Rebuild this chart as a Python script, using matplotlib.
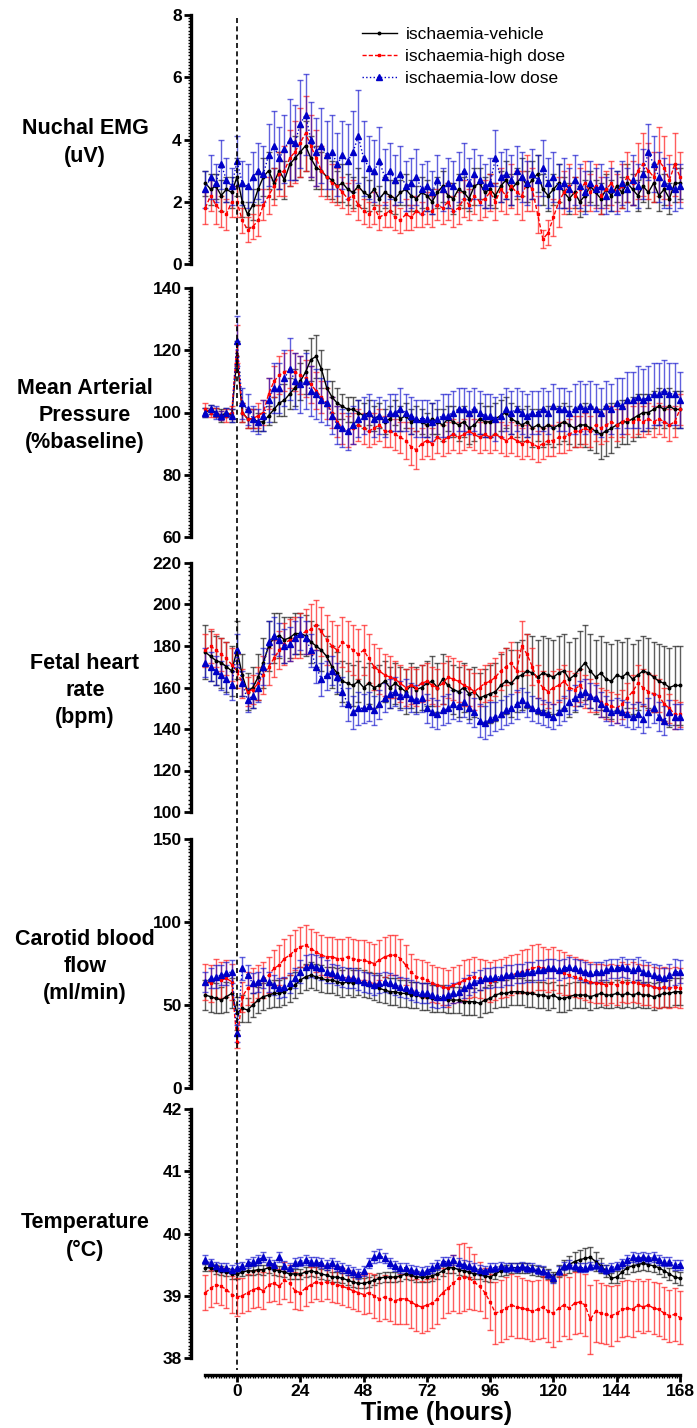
import matplotlib
matplotlib.use('Agg')
import matplotlib.pyplot as plt
from matplotlib.ticker import MultipleLocator, FixedLocator
from matplotlib.transforms import blended_transform_factory
from matplotlib.lines import Line2D

plt.rcParams['font.family'] = ['Liberation Sans', 'DejaVu Sans']

hours = list(range(-12, 169, 2))

series_names = ['ischaemia-vehicle', 'ischaemia-high dose', 'ischaemia-low dose']

# ---------------- Nuchal EMG (uV) ----------------
emg_vehicle = [2.6, 2.4, 2.5, 2.2, 2.4, 2.3,
               2.8, 2.0, 1.6, 1.9, 2.4, 2.8,
               3.0, 2.6, 3.0, 2.7, 3.2, 3.4,
               3.6, 3.8, 3.4, 3.1, 3.0, 2.8,
               2.7, 2.5, 2.6, 2.4, 2.3, 2.5,
               2.3, 2.2, 2.4, 2.1, 2.3, 2.2,
               2.1, 2.3, 2.4, 2.2, 2.1, 2.3,
               2.2, 2.0, 2.3, 2.5, 2.2, 2.1,
               2.4, 2.3, 2.1, 2.5, 2.6, 2.3,
               2.4, 2.2, 2.5, 2.7, 2.4, 2.6,
               2.8, 2.5, 2.7, 2.9, 2.4, 2.2,
               2.4, 2.6, 2.3, 2.1, 2.3, 2.0,
               2.2, 2.5, 2.3, 2.1, 2.4, 2.2,
               2.5, 2.3, 2.6, 2.4, 2.2, 2.5,
               2.3, 2.6, 2.2, 2.4, 2.1, 2.6,
               2.6]
emg_vehicle_err = [0.4, 0.5, 0.4, 0.5, 0.4, 0.5,
                   0.6, 0.5, 0.4, 0.5, 0.5, 0.6,
                   0.6, 0.5, 0.6, 0.6, 0.7, 0.7,
                   0.8, 0.8, 0.7, 0.7, 0.6, 0.6,
                   0.6, 0.5, 0.6, 0.5, 0.5, 0.6,
                   0.5, 0.5, 0.5, 0.4, 0.5, 0.5,
                   0.5, 0.4, 0.5, 0.5, 0.4, 0.5,
                   0.5, 0.4, 0.5, 0.5, 0.4, 0.5,
                   0.5, 0.5, 0.4, 0.6, 0.5, 0.5,
                   0.5, 0.4, 0.5, 0.6, 0.5, 0.5,
                   0.6, 0.5, 0.6, 0.6, 0.5, 0.5,
                   0.5, 0.6, 0.5, 0.5, 0.5, 0.5,
                   0.5, 0.5, 0.4, 0.5, 0.5, 0.5,
                   0.5, 0.5, 0.6, 0.5, 0.5, 0.5,
                   0.5, 0.6, 0.5, 0.5, 0.5, 0.6,
                   0.5]
emg_high = [1.8, 2.2, 1.9, 1.7, 1.6, 2.0,
            2.0, 1.4, 1.1, 1.2, 1.4, 1.9,
            2.2, 2.5, 2.9, 3.0, 3.4, 3.6,
            3.9, 4.2, 3.8, 3.4, 3.0, 2.8,
            2.6, 2.5, 2.3, 2.1, 2.2, 1.9,
            1.7, 1.6, 1.8, 1.5, 1.6, 1.7,
            1.5, 1.4, 1.6, 1.5, 1.7, 1.6,
            1.8, 1.7, 1.9, 1.8, 2.0, 1.7,
            1.8, 2.1, 1.9, 2.2, 2.0, 2.1,
            2.3, 2.0, 2.4, 2.2, 2.5, 2.3,
            2.2, 2.6, 2.4, 1.6, 0.8, 1.0,
            1.5, 2.0, 2.3, 2.5, 2.2, 2.4,
            2.6, 2.3, 2.5, 2.2, 2.4, 2.6,
            2.3, 2.5, 2.8, 2.6, 3.0, 3.2,
            3.0, 2.8, 3.3, 3.1, 2.7, 3.2,
            2.8]
emg_high_err = [0.5, 0.5, 0.6, 0.5, 0.5, 0.5,
                0.5, 0.4, 0.4, 0.4, 0.5, 0.5,
                0.6, 0.6, 0.7, 0.8, 0.9, 1.0,
                1.1, 1.2, 1.0, 0.9, 0.8, 0.7,
                0.6, 0.6, 0.5, 0.5, 0.5, 0.5,
                0.4, 0.4, 0.5, 0.4, 0.4, 0.5,
                0.4, 0.4, 0.5, 0.4, 0.5, 0.4,
                0.5, 0.5, 0.5, 0.5, 0.6, 0.5,
                0.5, 0.6, 0.5, 0.6, 0.6, 0.6,
                0.6, 0.6, 0.7, 0.6, 0.7, 0.7,
                0.8, 0.9, 0.7, 0.6, 0.3, 0.4,
                0.6, 0.8, 0.7, 0.7, 0.6, 0.7,
                0.7, 0.6, 0.7, 0.6, 0.6, 0.7,
                0.6, 0.7, 0.8, 0.7, 0.9, 1.0,
                0.9, 0.8, 1.1, 1.0, 0.8, 1.0,
                0.8]
emg_low = [2.4, 2.8, 2.6, 3.2, 2.7, 2.5,
           3.3, 2.6, 2.5, 2.8, 3.0, 2.9,
           3.5, 3.8, 3.4, 3.7, 4.0, 3.9,
           4.5, 4.8, 4.0, 3.6, 3.8, 3.5,
           3.6, 3.2, 3.5, 3.3, 3.6, 4.1,
           3.4, 3.1, 3.0, 3.3, 2.8, 3.0,
           2.7, 2.9, 2.5, 2.6, 2.8, 2.4,
           2.5, 2.3, 2.7, 2.4, 2.6, 2.5,
           2.8, 3.0, 2.6, 2.9, 2.7, 2.5,
           2.6, 3.4, 2.8, 2.9, 2.7, 3.0,
           2.8, 2.6, 2.9, 2.7, 3.1, 2.6,
           2.8, 2.5, 2.6, 2.4, 2.7, 2.5,
           2.3, 2.6, 2.4, 2.5, 2.2, 2.4,
           2.3, 2.6, 2.4, 2.7, 2.5, 2.9,
           3.6, 3.2, 2.8, 2.6, 2.5, 2.4,
           2.5]
emg_low_err = [0.6, 0.7, 0.6, 0.8, 0.7, 0.6,
               0.8, 0.7, 0.7, 0.8, 0.9, 0.9,
               1.0, 1.1, 1.0, 1.1, 1.3, 1.2,
               1.4, 1.3, 1.2, 1.1, 1.2, 1.1,
               1.2, 1.0, 1.1, 1.2, 1.3, 1.5,
               1.2, 1.0, 1.0, 1.1, 0.9, 0.9,
               0.8, 0.9, 0.8, 0.8, 0.9, 0.8,
               0.8, 0.7, 0.8, 0.7, 0.8, 0.8,
               0.8, 0.9, 0.8, 0.8, 0.8, 0.7,
               0.8, 0.9, 0.8, 0.8, 0.8, 0.8,
               0.8, 0.7, 0.8, 0.8, 0.9, 0.8,
               0.8, 0.7, 0.8, 0.7, 0.8, 0.7,
               0.7, 0.7, 0.7, 0.7, 0.6, 0.7,
               0.7, 0.7, 0.7, 0.8, 0.7, 0.8,
               0.9, 0.9, 0.8, 0.8, 0.7, 0.7,
               0.7]

# ---------------- Mean arterial pressure (% baseline) ----------------
map_vehicle = [100, 101, 100, 99, 100, 99,
               118, 100, 98, 98, 97, 97,
               99, 101, 103, 104, 106, 108,
               110, 113, 117, 118, 114, 108,
               105, 103, 102, 101, 101, 100,
               99, 100, 98, 99, 97, 98,
               100, 98, 99, 97, 98, 97,
               96, 98, 97, 96, 98, 97,
               96, 97, 95, 96, 98, 97,
               97, 98, 99, 100, 98, 97,
               96, 97, 95, 96, 95, 96,
               95, 96, 97, 96, 95, 96,
               96, 95, 94, 93, 94, 95,
               96, 97, 97, 98, 99, 100,
               100, 101, 102, 101, 102, 101,
               101]
map_vehicle_err = [1.5, 1.5, 1.5, 2, 1.5, 2,
                   5, 3, 3, 3, 3, 3,
                   3, 4, 4, 5, 5, 6,
                   6, 7, 7, 7, 6, 6,
                   5, 5, 4, 4, 4, 4,
                   4, 4, 4, 4, 4, 4,
                   4, 4, 4, 4, 4, 4,
                   4, 5, 4, 5, 4, 5,
                   5, 5, 5, 5, 5, 5,
                   5, 5, 5, 5, 5, 5,
                   5, 5, 6, 5, 6, 6,
                   6, 6, 6, 6, 6, 6,
                   7, 7, 7, 8, 8, 8,
                   7, 7, 7, 7, 7, 6,
                   6, 6, 6, 6, 6, 6,
                   6]
map_high = [101, 100, 100, 99, 99, 100,
            122, 100, 98, 98, 99, 100,
            106, 110, 112, 113, 114, 113,
            112, 111, 109, 107, 105, 103,
            100, 97, 95, 94, 95, 96,
            95, 94, 95, 96, 94, 94,
            93, 92, 91, 89, 88, 90,
            91, 90, 92, 91, 92, 93,
            92, 93, 94, 93, 92, 93,
            92, 93, 92, 91, 92, 91,
            90, 91, 90, 89, 90, 91,
            91, 92, 92, 93, 94, 94,
            95, 94, 96, 95, 96, 97,
            96, 97, 98, 97, 98, 97,
            98, 97, 98, 97, 96, 97,
            101]
map_high_err = [2, 1.5, 1.5, 1.5, 2, 2,
                6, 3, 3, 3, 4, 4,
                5, 5, 6, 6, 6, 6,
                6, 6, 6, 6, 5, 5,
                5, 5, 5, 5, 5, 5,
                5, 5, 5, 5, 5, 5,
                5, 5, 6, 6, 6, 5,
                5, 5, 5, 5, 5, 5,
                5, 5, 5, 5, 5, 5,
                5, 5, 5, 5, 5, 5,
                5, 5, 5, 5, 5, 5,
                5, 5, 5, 5, 5, 5,
                5, 5, 5, 5, 5, 5,
                5, 5, 5, 5, 5, 5,
                5, 5, 5, 5, 5, 5,
                5]
map_low = [100, 101, 100, 99, 100, 99,
           123, 103, 101, 98, 97, 99,
           104, 108, 108, 111, 114, 110,
           109, 110, 107, 106, 104, 103,
           99, 96, 95, 94, 96, 98,
           99, 100, 98, 99, 98, 100,
           100, 101, 100, 99, 98, 98,
           98, 97, 98, 99, 99, 100,
           101, 101, 100, 101, 100, 99,
           99, 98, 99, 101, 100, 101,
           100, 99, 100, 100, 101, 100,
           102, 101, 101, 100, 101, 102,
           101, 102, 101, 100, 102, 101,
           103, 102, 104, 104, 105, 104,
           105, 106, 106, 107, 106, 106,
           104]
map_low_err = [1.5, 1.5, 2, 1.5, 1.5, 2,
               8, 5, 5, 4, 4, 5,
               7, 8, 8, 9, 10, 9,
               9, 9, 8, 8, 7, 7,
               6, 6, 6, 6, 6, 6,
               6, 6, 6, 6, 6, 6,
               6, 7, 6, 6, 6, 6,
               6, 6, 6, 7, 7, 7,
               7, 7, 7, 7, 7, 7,
               7, 7, 7, 7, 7, 7,
               7, 7, 7, 7, 7, 7,
               7, 7, 7, 7, 8, 8,
               8, 8, 8, 8, 8, 8,
               8, 9, 9, 9, 10, 10,
               10, 10, 10, 10, 10, 10,
               9]

# ---------------- Fetal heart rate (bpm) ----------------
fhr_vehicle = [177, 175, 173, 172, 170, 168,
               178, 166, 158, 160, 165, 172,
               180, 184, 185, 183, 184, 186,
               186, 185, 182, 180, 178, 175,
               170, 167, 163, 162, 161, 163,
               160, 162, 160, 161, 163, 160,
               162, 160, 158, 161, 159, 160,
               162, 163, 160, 164, 161, 159,
               158, 160, 157, 158, 155, 156,
               157, 158, 161, 163, 162, 165,
               166, 168, 167, 165, 167, 166,
               165, 167, 168, 164, 166, 169,
               172, 168, 165, 167, 164, 163,
               166, 165, 167, 164, 166, 168,
               167, 165, 163, 162, 160, 161,
               161]
fhr_vehicle_err = [13, 12, 12, 12, 12, 12,
                   14, 10, 9, 10, 11, 12,
                   12, 12, 11, 11, 10, 10,
                   10, 10, 10, 10, 10, 10,
                   10, 10, 10, 10, 10, 10,
                   10, 10, 10, 10, 10, 10,
                   10, 10, 11, 11, 11, 11,
                   11, 12, 12, 12, 12, 12,
                   12, 12, 12, 12, 12, 13,
                   14, 14, 15, 16, 16, 17,
                   17, 18, 18, 18, 18, 18,
                   18, 18, 18, 18, 18, 18,
                   18, 18, 18, 18, 18, 18,
                   17, 17, 17, 17, 17, 17,
                   17, 17, 18, 18, 19, 19,
                   19]
fhr_high = [178, 180, 178, 176, 174, 171,
            168, 162, 158, 159, 162, 166,
            170, 174, 178, 181, 183, 184,
            185, 187, 188, 190, 187, 183,
            180, 178, 182, 180, 178, 176,
            178, 174, 170, 168, 166, 165,
            164, 162, 160, 161, 160, 162,
            163, 161, 160, 162, 165, 164,
            163, 161, 160, 158, 160, 162,
            163, 165, 168, 170, 172, 168,
            180, 176, 170, 163, 160, 158,
            160, 161, 163, 160, 159, 161,
            158, 156, 155, 153, 152, 151,
            150, 152, 155, 158, 162, 160,
            158, 157, 156, 152, 150, 147,
            147]
fhr_high_err = [8, 8, 8, 8, 8, 8,
                8, 7, 7, 7, 8, 9,
                9, 9, 9, 10, 10, 10,
                11, 11, 12, 12, 12, 12,
                12, 12, 12, 12, 12, 12,
                12, 12, 11, 11, 10, 10,
                9, 9, 9, 9, 9, 9,
                9, 9, 9, 10, 10, 10,
                10, 10, 9, 9, 9, 9,
                9, 9, 9, 9, 10, 10,
                12, 10, 9, 8, 8, 8,
                8, 8, 8, 8, 8, 8,
                8, 8, 7, 7, 7, 7,
                7, 7, 7, 8, 9, 9,
                9, 9, 8, 8, 7, 7,
                6]
fhr_low = [172, 170, 168, 166, 164, 161,
           178, 162, 154, 156, 160, 170,
           182, 185, 183, 180, 181, 184,
           186, 184, 178, 170, 164, 166,
           168, 165, 158, 152, 148, 150,
           150, 151, 149, 152, 155, 157,
           158, 156, 157, 155, 154, 155,
           150, 148, 147, 149, 150, 152,
           151, 153, 150, 148, 144, 143,
           145, 146, 147, 149, 150, 152,
           154, 152, 150, 149, 148, 147,
           146, 148, 150, 153, 155, 157,
           158, 156, 155, 152, 150, 148,
           149, 148, 147, 146, 147, 145,
           148, 150, 146, 144, 148, 146,
           146]
fhr_low_err = [7, 7, 7, 7, 7, 7,
               8, 6, 6, 6, 7, 9,
               10, 9, 8, 8, 8, 8,
               8, 8, 8, 8, 8, 7,
               7, 7, 7, 8, 8, 8,
               7, 7, 7, 7, 7, 7,
               7, 7, 7, 7, 7, 7,
               7, 7, 7, 7, 7, 7,
               7, 7, 7, 7, 8, 8,
               8, 7, 7, 7, 7, 7,
               6, 6, 6, 6, 6, 6,
               6, 6, 6, 6, 6, 6,
               6, 6, 6, 6, 6, 6,
               6, 6, 6, 6, 6, 7,
               7, 7, 7, 7, 6, 6,
               6]

# ---------------- Carotid blood flow (ml/min) ----------------
cbf_vehicle = [56, 55, 54, 53, 55, 57,
               45, 48, 47, 50, 53, 55,
               56, 57, 57, 58, 60, 62,
               65, 67, 68, 67, 66, 65,
               65, 64, 63, 64, 63, 64,
               63, 62, 61, 60, 59, 58,
               58, 57, 57, 56, 56, 55,
               55, 54, 54, 54, 53, 53,
               53, 52, 52, 52, 51, 53,
               54, 56, 57, 57, 58, 58,
               58, 57, 57, 56, 56, 55,
               56, 54, 54, 55, 56, 56,
               56, 55, 56, 57, 56, 56,
               57, 56, 57, 56, 57, 56,
               56, 55, 56, 57, 57, 58,
               58]
cbf_vehicle_err = [9, 9, 9, 8, 9, 9,
                   10, 8, 7, 7, 8, 8,
                   8, 8, 8, 8, 8, 8,
                   8, 8, 8, 8, 8, 8,
                   8, 8, 8, 8, 8, 8,
                   8, 8, 8, 8, 8, 8,
                   8, 8, 8, 8, 8, 8,
                   8, 8, 8, 8, 8, 8,
                   8, 8, 8, 8, 8, 8,
                   8, 8, 8, 8, 8, 8,
                   8, 8, 8, 8, 8, 8,
                   8, 8, 8, 8, 8, 8,
                   8, 8, 8, 8, 8, 8,
                   8, 8, 8, 8, 8, 8,
                   8, 8, 8, 8, 8, 8,
                   8]
cbf_high = [64, 63, 66, 65, 66, 64,
            28, 55, 60, 62, 64, 65,
            68, 72, 74, 78, 80, 83,
            85, 86, 84, 82, 80, 79,
            79, 78, 78, 79, 78, 77,
            77, 76, 75, 77, 79, 80,
            80, 78, 74, 70, 67, 66,
            65, 63, 62, 61, 60, 62,
            63, 65, 66, 67, 66, 65,
            64, 65, 66, 67, 68, 69,
            70, 71, 72, 73, 72, 71,
            72, 70, 69, 68, 67, 66,
            65, 64, 63, 63, 62, 63,
            62, 64, 63, 64, 63, 62,
            62, 61, 60, 61, 60, 61,
            60]
cbf_high_err = [11, 11, 12, 11, 11, 11,
                4, 9, 10, 10, 10, 11,
                11, 11, 12, 12, 12, 12,
                12, 12, 12, 12, 12, 12,
                12, 12, 12, 12, 12, 12,
                12, 12, 12, 12, 12, 12,
                12, 12, 12, 11, 11, 11,
                11, 11, 11, 11, 11, 11,
                11, 12, 12, 12, 12, 12,
                12, 12, 12, 12, 12, 12,
                13, 13, 14, 14, 13, 13,
                13, 13, 13, 12, 12, 12,
                12, 12, 12, 12, 12, 12,
                12, 12, 12, 12, 12, 12,
                12, 12, 12, 12, 12, 12,
                12]
cbf_low = [64, 66, 67, 68, 69, 70,
           33, 72, 68, 63, 64, 66,
           64, 62, 60, 61, 63, 66,
           70, 73, 74, 73, 72, 70,
           69, 68, 67, 66, 66, 65,
           64, 63, 62, 63, 64, 63,
           62, 61, 60, 59, 58, 57,
           57, 56, 55, 55, 56, 57,
           58, 60, 62, 64, 65, 66,
           66, 67, 67, 68, 68, 69,
           69, 70, 70, 71, 71, 72,
           72, 71, 72, 73, 72, 71,
           70, 69, 70, 70, 71, 72,
           72, 73, 72, 71, 72, 70,
           69, 68, 67, 66, 68, 70,
           70]
cbf_low_err = [6, 6, 7, 6, 7, 7,
               5, 7, 6, 6, 6, 6,
               6, 6, 6, 6, 6, 6,
               7, 7, 7, 7, 7, 7,
               6, 6, 6, 6, 6, 6,
               6, 6, 6, 6, 6, 6,
               6, 6, 6, 6, 6, 6,
               6, 7, 7, 6, 6, 6,
               6, 6, 6, 6, 6, 6,
               6, 6, 6, 6, 6, 6,
               6, 6, 6, 6, 6, 6,
               6, 6, 6, 6, 6, 6,
               6, 6, 6, 6, 6, 6,
               6, 6, 6, 7, 7, 7,
               7, 7, 7, 6, 7, 8,
               7]

# ---------------- Temperature (°C) ----------------
temp_vehicle = [39.45, 39.45, 39.42, 39.40, 39.38, 39.35,
                39.35, 39.38, 39.40, 39.40, 39.42, 39.42,
                39.45, 39.42, 39.40, 39.38, 39.35, 39.35,
                39.35, 39.38, 39.40, 39.38, 39.35, 39.33,
                39.30, 39.30, 39.28, 39.25, 39.22, 39.20,
                39.20, 39.22, 39.25, 39.28, 39.30, 39.30,
                39.30, 39.32, 39.35, 39.33, 39.30, 39.30,
                39.30, 39.32, 39.35, 39.40, 39.45, 39.45,
                39.42, 39.40, 39.38, 39.35, 39.35, 39.32,
                39.30, 39.35, 39.40, 39.42, 39.45, 39.45,
                39.45, 39.45, 39.42, 39.40, 39.38, 39.35,
                39.30, 39.40, 39.45, 39.50, 39.55, 39.58,
                39.60, 39.62, 39.55, 39.48, 39.40, 39.28,
                39.30, 39.38, 39.45, 39.48, 39.50, 39.52,
                39.50, 39.48, 39.45, 39.40, 39.35, 39.30,
                39.28]
temp_vehicle_err = [0.06, 0.06, 0.07, 0.07, 0.07, 0.08,
                    0.08, 0.07, 0.07, 0.07, 0.07, 0.08,
                    0.08, 0.08, 0.08, 0.08, 0.08, 0.08,
                    0.08, 0.08, 0.08, 0.08, 0.08, 0.08,
                    0.08, 0.08, 0.08, 0.08, 0.08, 0.08,
                    0.08, 0.08, 0.08, 0.08, 0.08, 0.08,
                    0.08, 0.08, 0.08, 0.08, 0.08, 0.08,
                    0.08, 0.08, 0.08, 0.08, 0.08, 0.08,
                    0.08, 0.08, 0.08, 0.08, 0.08, 0.08,
                    0.08, 0.08, 0.08, 0.08, 0.08, 0.08,
                    0.08, 0.08, 0.08, 0.08, 0.08, 0.08,
                    0.08, 0.10, 0.12, 0.14, 0.15, 0.16,
                    0.17, 0.17, 0.15, 0.12, 0.10, 0.08,
                    0.09, 0.10, 0.10, 0.10, 0.10, 0.10,
                    0.10, 0.10, 0.10, 0.10, 0.10, 0.10,
                    0.10]
temp_high = [39.05, 39.12, 39.18, 39.15, 39.10, 39.02,
             38.98, 39.00, 39.05, 39.10, 39.12, 39.08,
             39.18, 39.20, 39.15, 39.25, 39.20, 39.08,
             39.05, 39.12, 39.18, 39.22, 39.20, 39.22,
             39.20, 39.18, 39.15, 39.12, 39.08, 39.05,
             39.02, 39.05, 39.00, 38.95, 38.98, 38.95,
             38.92, 38.95, 38.95, 38.90, 38.85, 38.82,
             38.85, 38.88, 38.95, 39.05, 39.12, 39.20,
             39.28, 39.30, 39.28, 39.22, 39.15, 39.05,
             38.90, 38.72, 38.75, 38.80, 38.85, 38.82,
             38.80, 38.78, 38.75, 38.78, 38.82, 38.75,
             38.72, 38.80, 38.85, 38.80, 38.88, 38.90,
             38.85, 38.62, 38.75, 38.72, 38.70, 38.68,
             38.72, 38.78, 38.80, 38.78, 38.85, 38.82,
             38.85, 38.80, 38.78, 38.72, 38.68, 38.70,
             38.65]
temp_high_err = [0.28, 0.30, 0.30, 0.30, 0.30, 0.30,
                 0.30, 0.28, 0.30, 0.30, 0.30, 0.30,
                 0.28, 0.28, 0.28, 0.30, 0.30, 0.30,
                 0.28, 0.28, 0.28, 0.28, 0.28, 0.28,
                 0.30, 0.30, 0.30, 0.30, 0.30, 0.30,
                 0.32, 0.32, 0.35, 0.35, 0.35, 0.35,
                 0.38, 0.40, 0.40, 0.42, 0.42, 0.42,
                 0.42, 0.40, 0.40, 0.40, 0.40, 0.45,
                 0.55, 0.55, 0.50, 0.45, 0.40, 0.40,
                 0.45, 0.50, 0.50, 0.50, 0.50, 0.50,
                 0.48, 0.48, 0.48, 0.48, 0.50, 0.50,
                 0.55, 0.52, 0.50, 0.50, 0.50, 0.50,
                 0.50, 0.55, 0.50, 0.48, 0.48, 0.48,
                 0.45, 0.45, 0.45, 0.45, 0.42, 0.42,
                 0.42, 0.42, 0.42, 0.42, 0.42, 0.42,
                 0.42]
temp_low = [39.58, 39.52, 39.48, 39.45, 39.45, 39.42,
            39.45, 39.48, 39.52, 39.55, 39.58, 39.62,
            39.55, 39.50, 39.62, 39.48, 39.45, 39.52,
            39.55, 39.58, 39.55, 39.55, 39.52, 39.50,
            39.52, 39.48, 39.45, 39.42, 39.38, 39.35,
            39.40, 39.52, 39.62, 39.65, 39.60, 39.52,
            39.48, 39.45, 39.45, 39.42, 39.40, 39.38,
            39.40, 39.45, 39.50, 39.55, 39.55, 39.58,
            39.52, 39.50, 39.48, 39.45, 39.42, 39.40,
            39.45, 39.45, 39.48, 39.45, 39.46, 39.45,
            39.48, 39.45, 39.45, 39.42, 39.40, 39.35,
            39.28, 39.40, 39.48, 39.50, 39.48, 39.45,
            39.45, 39.48, 39.50, 39.45, 39.42, 39.45,
            39.48, 39.52, 39.58, 39.62, 39.60, 39.62,
            39.60, 39.62, 39.58, 39.55, 39.55, 39.50,
            39.50]
temp_low_err = [0.07, 0.07, 0.07, 0.07, 0.07, 0.07,
                0.08, 0.07, 0.07, 0.08, 0.08, 0.08,
                0.08, 0.08, 0.08, 0.08, 0.08, 0.08,
                0.08, 0.08, 0.08, 0.08, 0.08, 0.08,
                0.08, 0.08, 0.08, 0.08, 0.08, 0.08,
                0.08, 0.08, 0.10, 0.10, 0.08, 0.08,
                0.08, 0.08, 0.08, 0.08, 0.08, 0.08,
                0.08, 0.08, 0.08, 0.08, 0.08, 0.08,
                0.08, 0.08, 0.08, 0.08, 0.08, 0.08,
                0.07, 0.07, 0.07, 0.07, 0.07, 0.07,
                0.07, 0.07, 0.07, 0.07, 0.07, 0.07,
                0.07, 0.07, 0.07, 0.07, 0.07, 0.07,
                0.07, 0.07, 0.07, 0.07, 0.07, 0.07,
                0.07, 0.07, 0.08, 0.08, 0.08, 0.08,
                0.08, 0.08, 0.08, 0.08, 0.08, 0.08,
                0.08]

panels = [
    dict(label='Nuchal EMG\n(uV)', ylim=(0, 8), major=2, minor=0.1,
         series=[(emg_vehicle, emg_vehicle_err), (emg_high, emg_high_err), (emg_low, emg_low_err)]),
    dict(label='Mean Arterial\nPressure\n(%baseline)', ylim=(60, 140), major=20, minor=1,
         series=[(map_vehicle, map_vehicle_err), (map_high, map_high_err), (map_low, map_low_err)]),
    dict(label='Fetal heart\nrate\n(bpm)', ylim=(100, 220), major=20, minor=2,
         series=[(fhr_vehicle, fhr_vehicle_err), (fhr_high, fhr_high_err), (fhr_low, fhr_low_err)]),
    dict(label='Carotid blood\nflow\n(ml/min)', ylim=(0, 150), major=50, minor=2,
         series=[(cbf_vehicle, cbf_vehicle_err), (cbf_high, cbf_high_err), (cbf_low, cbf_low_err)]),
    dict(label='Temperature\n(°C)', ylim=(38, 42), major=1, minor=0.05,
         series=[(temp_vehicle, temp_vehicle_err), (temp_high, temp_high_err), (temp_low, temp_low_err)]),
]

styles = [
    dict(color='black', ecolor=(0.1, 0.1, 0.1, 0.7), ls='-', marker='o', ms=1.8),
    dict(color='#ff0000', ecolor=(1.0, 0.1, 0.1, 0.7), ls=(0, (3, 1.5)), marker='s', ms=1.6),
    dict(color='#0000c8', ecolor=(0.05, 0.05, 0.8, 0.65), ls=':', marker='^', ms=3.8),
]

W, H = 697, 1428
fig = plt.figure(figsize=(W / 100, H / 100), dpi=100)

tops = [15, 288, 563, 839, 1109]
ph = 249
xl, xr = -17.5, 169
px_per_h = (680 - 237) / 168.0
left_px = 237 + xl * px_per_h
right_px = 237 + xr * px_per_h

axes = []
for p, top in zip(panels, tops):
    ax = fig.add_axes([left_px / W, 1 - (top + ph) / H, (right_px - left_px) / W, ph / H])
    ax.set_xlim(xl, xr)
    ax.set_ylim(*p['ylim'])
    for s in ['top', 'right', 'bottom']:
        ax.spines[s].set_visible(False)
    ax.spines['left'].set_linewidth(2.4)
    ax.yaxis.set_major_locator(MultipleLocator(p['major']))
    ax.yaxis.set_minor_locator(MultipleLocator(p['minor']))
    ax.tick_params(axis='y', which='major', length=5, width=2.0, direction='out', labelsize=12.5, pad=1.5)
    ax.tick_params(axis='y', which='minor', length=2.5, width=1.0, direction='out')
    ax.tick_params(axis='x', which='both', bottom=False, labelbottom=False)
    for lbl in ax.get_yticklabels():
        lbl.set_fontweight('bold')
    for (vals, errs), st in zip(p['series'], styles):
        ax.errorbar(hours, vals, yerr=errs, color=st['color'], ecolor=st['ecolor'],
                    linestyle=st['ls'], marker=st['marker'], markersize=st['ms'],
                    linewidth=1.0, elinewidth=1.0, capsize=2.0, capthick=1.0, zorder=3)
    fig.text(85 / W, 1 - (top + ph / 2 + 3) / H, p['label'], ha='center', va='center',
             fontsize=15.5, fontweight='bold', linespacing=1.38)
    axes.append(ax)

# bottom time axis
axb = axes[-1]
axb.spines['bottom'].set_visible(True)
axb.spines['bottom'].set_position(('outward', 12))
axb.spines['bottom'].set_bounds(-12, 168)
axb.spines['bottom'].set_linewidth(2.4)
axb.xaxis.set_major_locator(FixedLocator(list(range(0, 169, 24))))
axb.xaxis.set_minor_locator(FixedLocator(list(range(-12, 169, 1))))
axb.tick_params(axis='x', which='major', bottom=True, labelbottom=True, length=5, width=2.0,
                direction='out', labelsize=12.5, pad=2)
axb.tick_params(axis='x', which='minor', bottom=True, length=2.5, width=1.0, direction='out')
for lbl in axb.get_xticklabels():
    lbl.set_fontweight('bold')
axb.set_xlabel('Time (hours)', fontsize=18, fontweight='bold', labelpad=1)

# vertical dashed line at time 0 through all panels
tr = blended_transform_factory(axb.transData, fig.transFigure)
axb.plot([0, 0], [1 - 18 / H, 1 - 1370 / H], transform=tr, color='black', lw=1.2,
         ls=(0, (3, 2)), clip_on=False, zorder=1)

# legend
handles = [Line2D([], [], color=st['color'], linestyle=st['ls'], marker=st['marker'],
                  markersize=st['ms'], linewidth=1.0) for st in styles]
fig.legend(handles, series_names, loc='upper left', bbox_to_anchor=(362 / W, 1 - 27 / H),
           frameon=False, fontsize=12.5, handlelength=2.0, handletextpad=0.5, labelspacing=0.4,
           borderaxespad=0, borderpad=0)

fig.savefig('out.png', dpi=100)
